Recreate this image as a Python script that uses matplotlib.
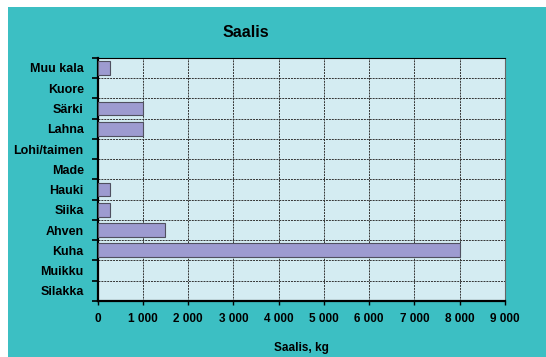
import numpy as np
import matplotlib.pyplot as plt
from matplotlib.patches import Rectangle

species = ["Muu kala", "Kuore", "Särki", "Lahna", "Lohi/taimen", "Made",
           "Hauki", "Siika", "Ahven", "Kuha", "Muikku", "Silakka"]
catch_kg = [280, 0, 1000, 1000, 0, 0, 280, 280, 1500, 8000, 0, 0]
xticks = [0, 1000, 2000, 3000, 4000, 5000, 6000, 7000, 8000, 9000]

plt.rcParams['font.family'] = ['Liberation Sans', 'DejaVu Sans']
plt.rcParams['font.weight'] = 'bold'

fig = plt.figure(figsize=(5.46, 3.57), dpi=100)
fig.patch.set_facecolor('white')
# teal panel behind everything
fig.patches.append(Rectangle((8 / 546, 0), 1, 1 - 7 / 357, transform=fig.transFigure,
                             facecolor='#3cbfc3', edgecolor='none', zorder=-10))

ax = fig.add_axes([0.1786, 0.157, 0.7464, 0.681])
ax.set_facecolor('#d4ecf2')

y = np.arange(len(species))
vals = np.array(catch_kg)
nz = vals > 0
ax.barh(y[nz], vals[nz], height=0.68, color='#9d9bd0', edgecolor='#505060',
        linewidth=0.8, zorder=3)

ax.set_ylim(len(species) - 0.5, -0.5)
ax.set_xlim(0, 9000)
ax.set_yticks(y)
ax.set_yticklabels(species, fontsize=9, fontweight='bold')
ax.set_yticks(np.arange(len(species) + 1) - 0.5, minor=True)
ax.tick_params(axis='y', which='major', length=0, pad=10)
ax.tick_params(axis='y', which='minor', length=4, width=1.2, direction='out')

ax.set_xticks(xticks)
ax.set_xticklabels([f"{v:,}".replace(",", " ") for v in xticks], fontsize=8.5, fontweight='bold')
ax.tick_params(axis='x', length=3, width=1, direction='out', pad=6)

ax.grid(True, axis='x', which='major', linestyle=(0, (2, 1)), color='#333333', linewidth=0.7, zorder=1)
ax.grid(True, axis='y', which='minor', linestyle=(0, (2, 1)), color='#333333', linewidth=0.7, zorder=1)
ax.set_axisbelow(True)

ax.spines['left'].set_linewidth(1.6)
ax.spines['bottom'].set_linewidth(1.6)
ax.spines['top'].set_linestyle((0, (2, 1)))
ax.spines['top'].set_linewidth(0.8)
ax.spines['right'].set_color('#666666')
ax.spines['right'].set_linewidth(0.8)

ax.set_xlabel("Saalis, kg", fontsize=8.5, fontweight='bold', labelpad=12)
fig.text(0.45, 0.91, "Saalis", ha='center', va='center', fontsize=11.5, fontweight='bold')

fig.savefig("out.png", dpi=100)
